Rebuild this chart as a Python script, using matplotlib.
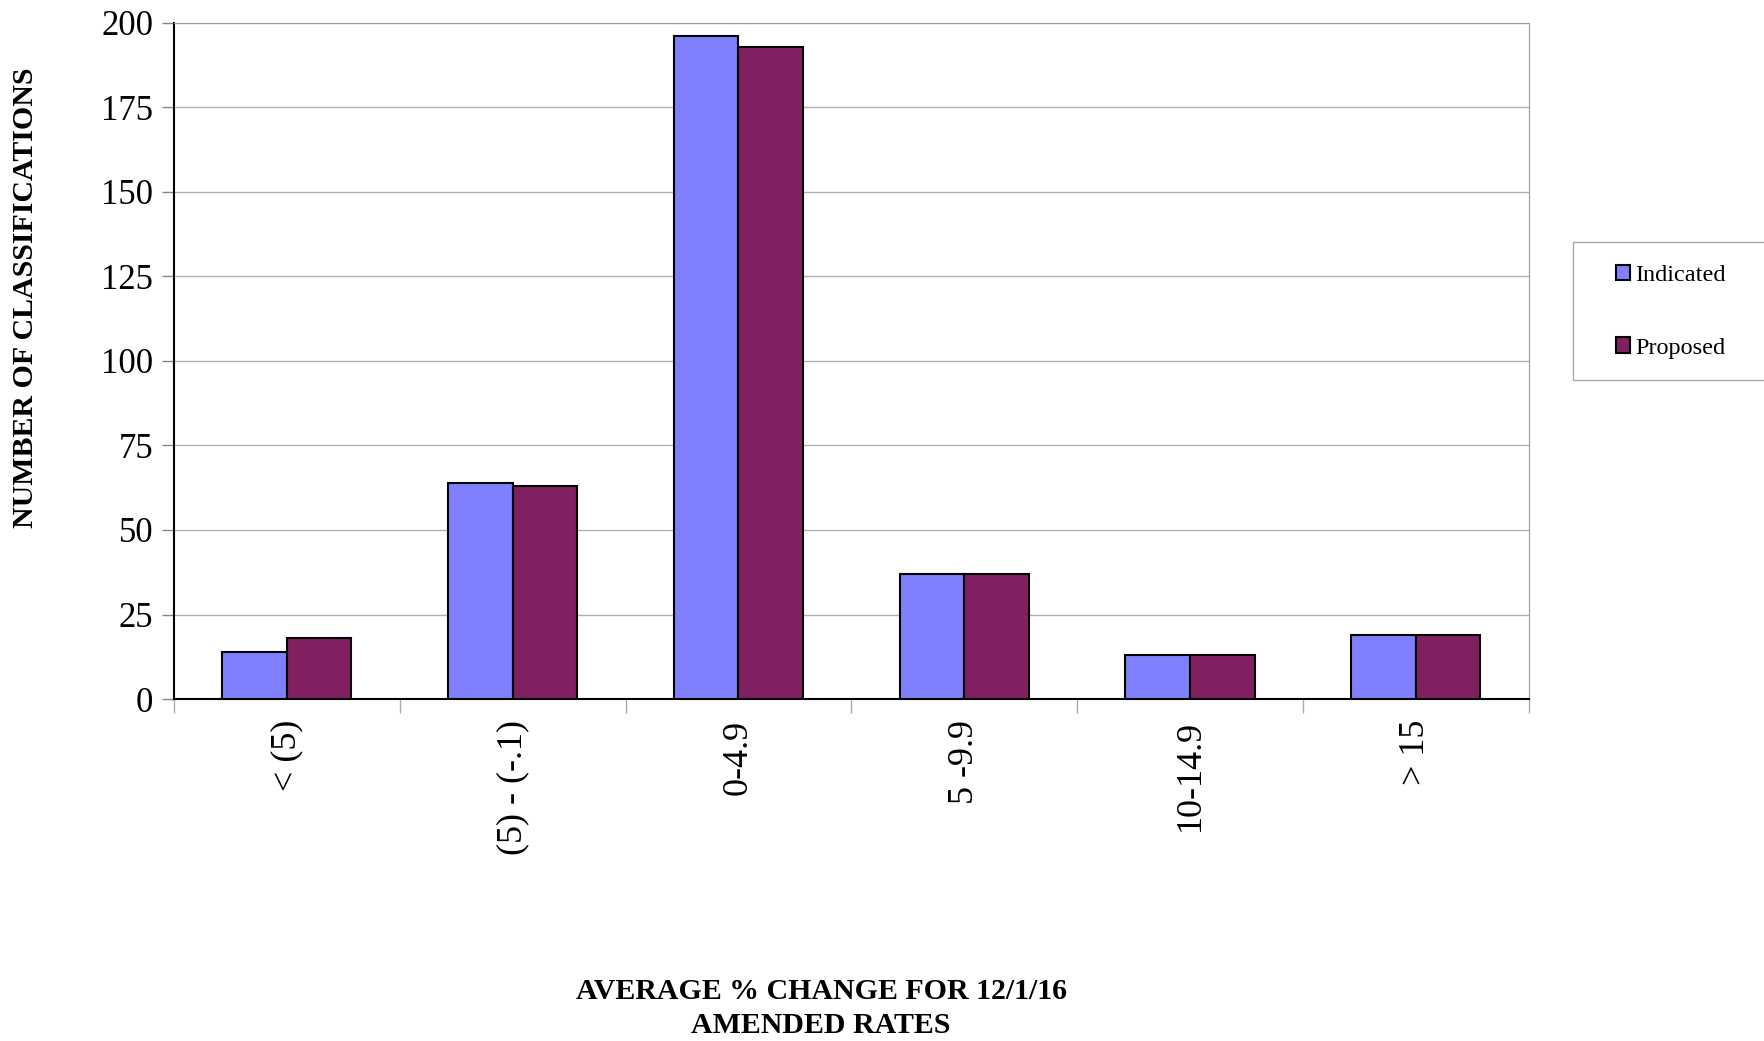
import matplotlib
matplotlib.use('Agg')
import matplotlib.pyplot as plt
from matplotlib.patches import Rectangle
import numpy as np

plt.rcParams['font.family'] = ['Liberation Serif', 'DejaVu Serif']

categories = ['< (5)', '(5) - (-.1)', '0-4.9', '5 -9.9', '10-14.9', '> 15']
indicated = [14, 64, 196, 37, 13, 19]
proposed = [18, 63, 193, 37, 13, 19]
yticks = [0, 25, 50, 75, 100, 125, 150, 175, 200]

fig = plt.figure(figsize=(17.64, 10.41), dpi=100)
ax = fig.add_axes([0.0986, 0.3285, 0.768, 0.6495])

x = np.arange(len(categories))
w = 0.286
ax.bar(x - w / 2, indicated, w, color='#8080FF', edgecolor='black', linewidth=1.5,
       label='Indicated', zorder=3)
ax.bar(x + w / 2, proposed, w, color='#802060', edgecolor='black', linewidth=1.5,
       label='Proposed', zorder=3)

ax.set_xlim(-0.5, len(categories) - 0.5)
ax.set_ylim(0, 200)
ax.set_yticks(yticks)
ax.tick_params(axis='y', labelsize=25, length=9, width=1, color='#888888', pad=6)
ax.yaxis.grid(True, color='#b0b0b0', linewidth=1, zorder=0)

ax.set_xticks(x)
ax.set_xticklabels(categories, rotation=90, fontsize=26)
ax.tick_params(axis='x', which='major', length=0, pad=15)
ax.set_xticks(np.arange(-0.5, len(categories)), minor=True)
ax.tick_params(axis='x', which='minor', length=10, width=1, color='#aaaaaa')

ax.spines['left'].set_color('black')
ax.spines['left'].set_linewidth(1.5)
ax.spines['bottom'].set_color('black')
ax.spines['bottom'].set_linewidth(1.5)
ax.spines['top'].set_color('#999999')
ax.spines['right'].set_color('#999999')

fig.text(0.0145, 0.714, 'NUMBER OF CLASSIFICATIONS', rotation=90, fontsize=21.5,
         fontweight='bold', ha='center', va='center')
fig.text(0.4655, 0.031, 'AVERAGE % CHANGE FOR 12/1/16\nAMENDED RATES', fontsize=21.5,
         fontweight='bold', ha='center', va='center', linespacing=1.35)

# legend frame runs off the right edge of the figure
fig.patches.append(Rectangle((0.8917, 0.635), 0.2, 0.1325, transform=fig.transFigure,
                             facecolor='white', edgecolor='#aaaaaa', linewidth=1))
leg = fig.legend(loc='center left', bbox_to_anchor=(0.916, 0.7005), fontsize=17.5,
                 frameon=False, labelspacing=2.1,
                 handlelength=0.6, handleheight=0.6, handletextpad=0.2,
                 borderpad=0, borderaxespad=0)

fig.savefig('out.png', dpi=100)
